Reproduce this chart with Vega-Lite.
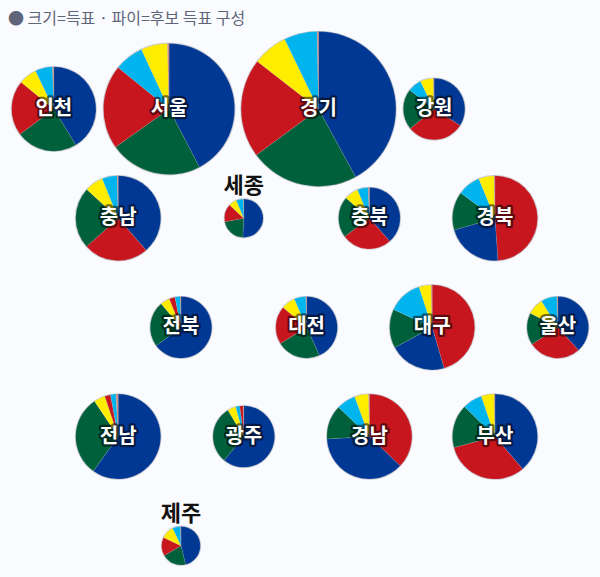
{"$schema":"https://vega.github.io/schema/vega-lite/v6.json","width":600,"height":577,"padding":0,"autosize":"none","background":"#fafbfe","title":{"text":"● 크기=득표 · 파이=후보 득표 구성","anchor":"start","frame":"group","offset":0,"dx":8,"dy":27,"font":"Noto Sans CJK KR","fontSize":16,"fontWeight":"normal","color":"#5f6578"},"view":{"stroke":null},"config":{"axis":{"domain":false,"grid":false,"ticks":false,"labels":false,"title":null}},"datasets":{"regions":[
{"region":"인천","col":-0.025,"row":0,"total":2467},{"region":"서울","col":1.81,"row":0,"total":5962},{"region":"경기","col":4.19,"row":0,"total":8300},{"region":"강원","col":6.03,"row":0,"total":1314},
{"region":"충남","col":1,"row":1,"total":2503},{"region":"세종","col":3,"row":1,"total":516},{"region":"충북","col":5,"row":1,"total":1314},{"region":"경북","col":7,"row":1,"total":2503},
{"region":"전북","col":2,"row":2,"total":1314},{"region":"대전","col":4,"row":2,"total":1314},{"region":"대구","col":6,"row":2,"total":2503},{"region":"울산","col":8,"row":2,"total":1314},
{"region":"전남","col":1,"row":3,"total":2503},{"region":"광주","col":3,"row":3,"total":1314},{"region":"경남","col":5,"row":3,"total":2503},{"region":"부산","col":7,"row":3,"total":2503},
{"region":"제주","col":2,"row":4,"total":516}],
"slices":[
{"region":"인천","party":"파랑","share":41.3},{"region":"인천","party":"녹색","share":23.5},{"region":"인천","party":"빨강","share":21.1},{"region":"인천","party":"노랑","share":7.0},{"region":"인천","party":"하늘","share":6.6},{"region":"인천","party":"기타","share":0.5},
{"region":"서울","party":"파랑","share":42.3},{"region":"서울","party":"녹색","share":22.8},{"region":"서울","party":"빨강","share":20.7},{"region":"서울","party":"하늘","share":7.2},{"region":"서울","party":"노랑","share":6.5},{"region":"서울","party":"기타","share":0.4},
{"region":"경기","party":"파랑","share":42.1},{"region":"경기","party":"녹색","share":22.8},{"region":"경기","party":"빨강","share":20.7},{"region":"경기","party":"노랑","share":7.3},{"region":"경기","party":"하늘","share":6.9},{"region":"경기","party":"기타","share":0.3},
{"region":"강원","party":"파랑","share":34.0},{"region":"강원","party":"빨강","share":30.1},{"region":"강원","party":"녹색","share":21.4},{"region":"강원","party":"하늘","share":7.2},{"region":"강원","party":"노랑","share":6.9},{"region":"강원","party":"기타","share":0.4},
{"region":"충남","party":"파랑","share":38.6},{"region":"충남","party":"빨강","share":24.8},{"region":"충남","party":"녹색","share":23.4},{"region":"충남","party":"노랑","share":7.1},{"region":"충남","party":"하늘","share":5.7},{"region":"충남","party":"기타","share":0.4},
{"region":"세종","party":"파랑","share":50.8},{"region":"세종","party":"녹색","share":21.3},{"region":"세종","party":"빨강","share":14.8},{"region":"세종","party":"노랑","share":6.8},{"region":"세종","party":"하늘","share":5.9},{"region":"세종","party":"기타","share":0.4},
{"region":"전북","party":"파랑","share":64.9},{"region":"전북","party":"녹색","share":24.0},{"region":"전북","party":"노랑","share":4.9},{"region":"전북","party":"빨강","share":3.1},{"region":"전북","party":"하늘","share":2.7},{"region":"전북","party":"기타","share":0.4},
{"region":"대전","party":"파랑","share":43.2},{"region":"대전","party":"녹색","share":23.1},{"region":"대전","party":"빨강","share":20.0},{"region":"대전","party":"노랑","share":7.3},{"region":"대전","party":"하늘","share":6.1},{"region":"대전","party":"기타","share":0.4},
{"region":"충북","party":"파랑","share":38.5},{"region":"충북","party":"빨강","share":26.4},{"region":"충북","party":"녹색","share":21.4},{"region":"충북","party":"노랑","share":7.4},{"region":"충북","party":"하늘","share":5.7},{"region":"충북","party":"기타","share":0.6},
{"region":"경북","party":"빨강","share":48.9},{"region":"경북","party":"파랑","share":21.6},{"region":"경북","party":"녹색","share":14.6},{"region":"경북","party":"하늘","share":8.7},{"region":"경북","party":"노랑","share":5.8},{"region":"경북","party":"기타","share":0.4},
{"region":"대구","party":"빨강","share":45.5},{"region":"대구","party":"파랑","share":21.6},{"region":"대구","party":"녹색","share":14.8},{"region":"대구","party":"하늘","share":13.1},{"region":"대구","party":"노랑","share":4.6},{"region":"대구","party":"기타","share":0.4},
{"region":"울산","party":"파랑","share":38.3},{"region":"울산","party":"빨강","share":27.5},{"region":"울산","party":"녹색","share":16.8},{"region":"울산","party":"노랑","share":8.6},{"region":"울산","party":"하늘","share":8.3},{"region":"울산","party":"기타","share":0.5},
{"region":"전남","party":"파랑","share":59.9},{"region":"전남","party":"녹색","share":30.7},{"region":"전남","party":"노랑","share":4.3},{"region":"전남","party":"빨강","share":2.2},{"region":"전남","party":"하늘","share":2.1},{"region":"전남","party":"기타","share":0.8},
{"region":"광주","party":"파랑","share":61.0},{"region":"광주","party":"녹색","share":30.4},{"region":"광주","party":"노랑","share":4.4},{"region":"광주","party":"하늘","share":2.1},{"region":"광주","party":"빨강","share":1.8},{"region":"광주","party":"기타","share":0.3},
{"region":"제주","party":"파랑","share":46.2},{"region":"제주","party":"녹색","share":20.5},{"region":"제주","party":"빨강","share":15.5},{"region":"제주","party":"노랑","share":10.8},{"region":"제주","party":"하늘","share":6.7},{"region":"제주","party":"기타","share":0.4},
{"region":"경남","party":"빨강","share":37.1},{"region":"경남","party":"파랑","share":37.0},{"region":"경남","party":"녹색","share":13.0},{"region":"경남","party":"하늘","share":7.3},{"region":"경남","party":"노랑","share":5.3},{"region":"경남","party":"기타","share":0.3},
{"region":"부산","party":"파랑","share":38.8},{"region":"부산","party":"빨강","share":32.1},{"region":"부산","party":"녹색","share":16.5},{"region":"부산","party":"하늘","share":7.5},{"region":"부산","party":"노랑","share":4.9},{"region":"부산","party":"기타","share":0.3}
]},
"encoding":{"x":{"field":"col","type":"quantitative","scale":{"domain":[-0.882,8.672],"nice":false,"zero":false},"axis":null},"y":{"field":"row","type":"quantitative","scale":{"domain":[-0.998,4.286],"nice":false,"zero":false,"reverse":true},"axis":null}},
"layer":[
{"data":{"name":"regions"},"mark":{"type":"arc","theta":0,"theta2":6.283185,"fill":"#ffffff","stroke":"#d2d3d8","strokeWidth":1.8},"encoding":{"radius":{"field":"total","type":"quantitative","stack":null,"scale":{"type":"sqrt","domain":[0,8300],"range":[0,77.4]}}}},
{"data":{"name":"slices"},"transform":[{"lookup":"region","from":{"data":{"name":"regions"},"key":"region","fields":["col","row","total"]}},{"stack":"share","groupby":["region"],"sort":[{"field":"share","order":"descending"}],"offset":"normalize","as":["a0","a1"]}],
"mark":{"type":"arc","stroke":"#b4b8c4","strokeWidth":0.3,"strokeOpacity":0.5},
"encoding":{"theta":{"field":"a0","type":"quantitative","scale":{"domain":[0,1],"range":[0,6.283185]}},"theta2":{"field":"a1"},"radius":{"field":"total","type":"quantitative","stack":null,"scale":{"type":"sqrt","domain":[0,8300],"range":[0,77.4]}},"color":{"field":"party","type":"nominal","scale":{"domain":["파랑","녹색","빨강","하늘","노랑","기타"],"range":["#003893","#00603c","#c8161e","#00b5ee","#ffed00","#d08a78"]},"legend":null},"order":{"field":"a0"}}},
{"data":{"name":"regions"},"transform":[{"filter":"datum.total > 1000"}],"mark":{"type":"text","font":"Noto Sans CJK KR","fontWeight":"bold","fontSize":20,"fill":"#000","stroke":"#000","strokeOpacity":0.55,"strokeWidth":4.5,"strokeJoin":"round","fillOpacity":0.55},"encoding":{"text":{"field":"region"}}},
{"data":{"name":"regions"},"transform":[{"filter":"datum.total > 1000"}],"mark":{"type":"text","font":"Noto Sans CJK KR","fontWeight":"bold","fontSize":20,"fill":"#ffffff"},"encoding":{"text":{"field":"region"}}},
{"data":{"name":"regions"},"transform":[{"filter":"datum.total <= 1000"}],"mark":{"type":"text","font":"Noto Sans CJK KR","fontWeight":"bold","fontSize":22,"fill":"#111111","dy":-32},"encoding":{"text":{"field":"region"}}}
]}
